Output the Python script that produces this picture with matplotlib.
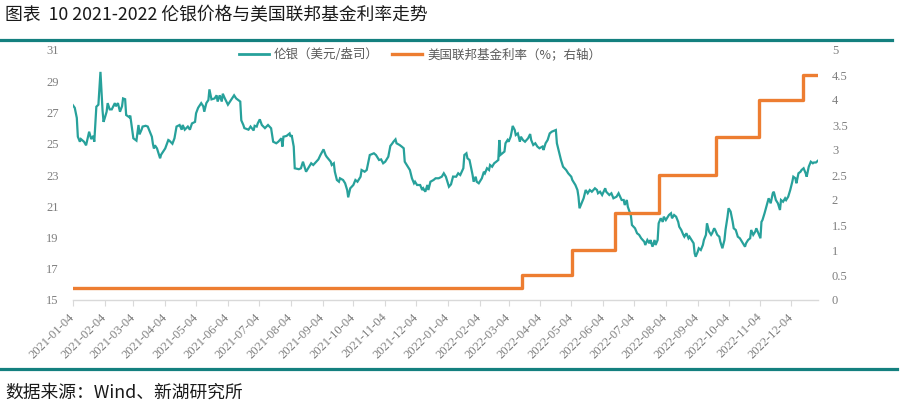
import matplotlib
matplotlib.use("Agg")
import matplotlib.pyplot as plt
from matplotlib.lines import Line2D
import pandas as pd
import numpy as np

# ---------------- data ----------------
start_date = "2021-01-04"
end_date = "2022-12-30"

# London silver price (USD/oz): day offsets from start_date and values
silver_day = [0, 2, 4, 5, 7, 8, 11, 13, 16, 18, 20, 21, 23, 25, 27, 29, 30, 31, 33, 34, 36, 38, 41, 42, 44, 46, 48, 49,
              51, 52, 55, 56, 57, 59, 62, 64, 65, 67, 68, 71, 73, 75, 77, 78, 79, 80, 82, 85, 86, 90, 93, 94, 97, 99,
              101, 104, 106, 107, 109, 112, 114, 116, 119, 120, 122, 124, 125, 127, 128, 130, 132, 133, 135, 138, 140,
              141, 143, 145, 146, 148, 151, 153, 154, 157, 159, 163, 164, 166, 167, 171, 173, 176, 177, 179, 180, 182,
              184, 187, 190, 193, 195, 198, 200, 203, 204, 205, 208, 211, 212, 213, 215, 216, 220, 222, 224, 225, 227,
              229, 232, 234, 237, 239, 241, 244, 246, 247, 251, 252, 254, 255, 257, 259, 260, 263, 265, 267, 268, 270,
              273, 275, 277, 280, 281, 284, 286, 288, 289, 293, 295, 298, 300, 302, 304, 307, 309, 311, 312, 314, 315,
              318, 320, 322, 323, 325, 328, 330, 332, 333, 335, 338, 340, 341, 343, 345, 346, 348, 351, 353, 356, 359,
              361, 363, 366, 368, 370, 373, 375, 377, 380, 381, 383, 384, 386, 387, 389, 390, 392, 393, 395, 397, 398,
              400, 401, 403, 405, 406, 408, 410, 412, 414, 415, 416, 418, 420, 421, 423, 424, 426, 427, 428, 430, 431,
              433, 435, 436, 438, 440, 443, 445, 446, 448, 450, 452, 454, 457, 458, 460, 462, 464, 466, 470, 471, 473,
              475, 477, 480, 482, 485, 486, 489, 491, 492, 493, 495, 497, 499, 501, 503, 505, 508, 510, 511, 513, 515,
              518, 519, 522, 524, 526, 529, 531, 534, 536, 537, 539, 540, 543, 544, 547, 549, 551, 553, 556, 557, 559,
              561, 562, 564, 566, 567, 569, 570, 572, 574, 575, 577, 578, 580, 582, 583, 585, 587, 589, 590, 592, 594,
              595, 597, 599, 600, 602, 604, 605, 606, 608, 609, 611, 613, 614, 616, 617, 619, 621, 622, 624, 625, 627,
              629, 630, 632, 634, 635, 637, 638, 640, 642, 643, 645, 647, 649, 650, 652, 654, 655, 657, 659, 660, 662,
              664, 665, 667, 669, 670, 671, 673, 676, 677, 679, 681, 682, 684, 686, 688, 689, 691, 693, 694, 696, 698,
              700, 701, 703, 704, 706, 708, 709, 711, 713, 714, 716, 718, 720, 721, 723, 725]
silver_val = [27.48, 27.3, 26.65, 25.45, 25.13, 25.3, 25.13, 24.9, 25.77, 25.3, 25.5, 25.13, 27.37, 27.5, 29.6, 27.16,
              26.4, 26.6, 27.05, 27.6, 27.2, 27.2, 27.6, 27.4, 27.6, 27.05, 27.4, 27.9, 27.85, 26.84, 26.7, 26.8, 26.3,
              25.35, 25.2, 26.2, 25.6, 25.9, 26.1, 26.15, 26.1, 25.77, 25.45, 25.0, 24.7, 24.9, 24.7, 24.07, 24.3, 24.7,
              25.24, 25.2, 25.0, 25.35, 26.1, 26.2, 25.9, 26.2, 25.9, 26.1, 25.9, 26.3, 26.4, 26.95, 27.3, 27.5, 27.6,
              27.4, 27.05, 27.6, 27.8, 28.48, 27.84, 27.9, 28.1, 27.7, 28.1, 27.7, 28.2, 27.9, 27.5, 27.7, 27.8, 28.1,
              27.9, 27.7, 26.5, 26.2, 26.0, 25.9, 26.1, 25.85, 26.15, 26.1, 26.3, 26.56, 26.2, 26.0, 26.2, 25.99, 25.13,
              25.03, 25.13, 25.35, 24.82, 25.45, 25.5, 25.66, 25.45, 25.55, 24.82, 23.43, 23.37, 23.43, 23.85, 23.64,
              23.21, 23.43, 23.75, 23.64, 23.85, 24.0, 24.28, 24.64, 24.28, 24.17, 23.85, 23.64, 23.75, 23.21, 22.68,
              22.57, 22.79, 22.68, 22.47, 22.04, 21.57, 22.15, 22.36, 22.68, 22.57, 22.89, 23.32, 23.21, 23.32, 23.96,
              24.28, 24.39, 24.28, 23.96, 24.0, 23.75, 23.85, 24.17, 24.86, 25.03, 25.13, 25.28, 25.03, 24.92, 24.82,
              24.71, 23.85, 23.64, 23.32, 22.79, 22.47, 22.57, 22.36, 22.36, 22.04, 22.15, 21.93, 22.36, 22.04, 22.57,
              22.68, 22.79, 22.79, 22.89, 23.11, 22.89, 22.25, 22.4, 22.9, 22.89, 23.11, 23.0, 23.43, 24.28, 24.39,
              24.07, 23.96, 23.64, 23.0, 22.57, 22.89, 22.57, 22.47, 22.68, 22.79, 23.21, 23.11, 23.43, 23.32, 23.64,
              23.53, 23.75, 23.85, 23.96, 25.24, 24.28, 24.39, 24.5, 25.03, 25.24, 25.13, 25.45, 25.77, 26.14, 25.88,
              25.56, 25.66, 25.13, 25.45, 25.24, 25.13, 25.35, 25.62, 25.24, 24.92, 25.03, 24.82, 24.71, 24.82, 24.6,
              25.03, 25.24, 25.66, 25.77, 25.88, 25.03, 24.5, 23.96, 23.53, 23.32, 23.11, 22.89, 22.68, 22.36, 22.04,
              21.61, 20.87, 21.19, 21.51, 22.04, 21.83, 22.04, 21.93, 22.15, 22.04, 21.83, 21.93, 21.72, 22.15, 21.93,
              21.72, 21.83, 21.51, 21.61, 21.83, 21.4, 21.4, 21.08, 21.4, 20.97, 20.4, 19.8, 19.59, 19.27, 19.17, 18.95,
              18.73, 18.52, 18.84, 18.63, 18.84, 18.41, 18.84, 18.52, 18.84, 19.91, 20.23, 20.0, 20.33, 20.12, 20.23,
              20.44, 20.55, 20.23, 20.44, 20.33, 20.0, 19.69, 19.48, 19.17, 19.05, 19.27, 18.95, 19.05, 18.84, 18.63,
              17.99, 17.77, 18.09, 18.31, 18.2, 18.52, 18.84, 19.17, 19.91, 19.38, 19.17, 19.27, 19.59, 19.48, 19.17,
              19.05, 18.73, 18.31, 18.84, 19.48, 20.33, 20.87, 20.66, 20.0, 19.59, 19.48, 19.05, 18.95, 18.84, 18.63,
              18.41, 18.63, 18.84, 18.95, 19.48, 19.17, 19.38, 19.59, 19.27, 18.95, 20.0, 20.12, 20.55, 21.29, 21.51,
              21.19, 21.83, 21.93, 21.4, 21.19, 20.76, 21.4, 21.29, 21.51, 21.4, 21.61, 22.04, 22.57, 22.89, 22.79,
              22.47, 23.11, 23.21, 23.32, 23.43, 23.11, 22.89, 23.53, 23.85, 23.75, 23.8, 23.8, 23.92]

# US federal funds rate (%, right axis), step changes
rate_dates = ["2021-01-04", "2022-03-17", "2022-05-05", "2022-06-16", "2022-07-28",
              "2022-09-22", "2022-11-03", "2022-12-15", "2022-12-30"]
rate_vals = [0.25, 0.5, 1.0, 1.75, 2.5, 3.25, 4.0, 4.5, 4.5]

xtick_dates = ["2021-01-04", "2021-02-04", "2021-03-04", "2021-04-04", "2021-05-04", "2021-06-04",
               "2021-07-04", "2021-08-04", "2021-09-04", "2021-10-04", "2021-11-04", "2021-12-04",
               "2022-01-04", "2022-02-04", "2022-03-04", "2022-04-04", "2022-05-04", "2022-06-04",
               "2022-07-04", "2022-08-04", "2022-09-04", "2022-10-04", "2022-11-04", "2022-12-04"]
left_ticks = [15, 17, 19, 21, 23, 25, 27, 29, 31]
right_ticks = [0, 0.5, 1, 1.5, 2, 2.5, 3, 3.5, 4, 4.5, 5]
right_labels = ["0", "0.5", "1", "1.5", "2", "2.5", "3", "3.5", "4", "4.5", "5"]

title = "图表  10 2021-2022 伦银价格与美国联邦基金利率走势"
source = "数据来源：Wind、新湖研究所"
label_silver = "伦银（美元/盎司）"
label_rate = "美国联邦基金利率（%；右轴）"

# ---------------- style ----------------
plt.rcParams['font.family'] = ['Noto Sans CJK SC', 'DejaVu Sans']
TEAL = "#27a19b"
ORANGE = "#ed7d31"
RULE = "#14807f"
GRAY = "#7f7f7f"
W, H = 900, 408

fig = plt.figure(figsize=(W / 100, H / 100), dpi=100)
x0, x1, ytop, ybot = 72.7, 818, 50, 300
ax = fig.add_axes([x0 / W, 1 - ybot / H, (x1 - x0) / W, (ybot - ytop) / H])
ax2 = ax.twinx()

sdates = pd.Timestamp(start_date) + pd.to_timedelta(silver_day, unit="D")
ax.plot(sdates, silver_val, color=TEAL, lw=1.6, solid_joinstyle="miter", zorder=3)
ax2.plot(pd.to_datetime(rate_dates), rate_vals, color=ORANGE, lw=2.4, drawstyle="steps-post", zorder=2)

ax.set_xlim(pd.Timestamp(start_date), pd.Timestamp(end_date))
ax.set_ylim(15, 31)
ax2.set_ylim(0, 5)

ax.set_yticks(left_ticks)
ax.set_yticklabels([str(t) for t in left_ticks])
ax2.set_yticks(right_ticks)
ax2.set_yticklabels(right_labels)

xt = pd.to_datetime(xtick_dates)
ax.set_xticks(xt)
ax.set_xticklabels(xtick_dates, rotation=45, ha="right", va="center", rotation_mode="anchor")

for a in (ax, ax2):
    for s in ("top", "left", "right", "bottom"):
        a.spines[s].set_visible(False)
ax.spines["bottom"].set_visible(True)
ax.spines["bottom"].set_color("#d9d9d9")
ax.spines["bottom"].set_linewidth(1.0)

serif = ["Liberation Serif", "DejaVu Serif"]
ax.tick_params(axis="x", direction="out", length=4, color="#d9d9d9", pad=7, labelsize=9, labelcolor=GRAY)
ax.tick_params(axis="y", length=0, pad=10, labelsize=9, labelcolor=GRAY)
ax2.tick_params(axis="y", length=0, pad=10, labelsize=9, labelcolor=GRAY)
for lab in ax.get_xticklabels() + ax.get_yticklabels() + ax2.get_yticklabels():
    lab.set_fontfamily(serif)

handles = [Line2D([], [], color=TEAL, lw=2.0), Line2D([], [], color=ORANGE, lw=2.4)]
fig.legend(handles, [label_silver, label_rate], loc="center", bbox_to_anchor=(420 / W, 1 - 55 / H),
           ncol=2, frameon=False, fontsize=9.0, handlelength=2.4, handletextpad=0.4,
           columnspacing=1.1, labelcolor="#595959")

fig.text(5 / W, 1 - 15 / H, title, fontsize=12.8, va="center", ha="left", color="#1a1a1a")
fig.text(5 / W, 1 - 393 / H, source, fontsize=12.8, va="center", ha="left", color="#1a1a1a")

fig.add_artist(Line2D([0, 892 / W], [1 - 39.5 / H] * 2, color=RULE, lw=2.3, transform=fig.transFigure))
fig.add_artist(Line2D([0, 897 / W], [1 - 369 / H] * 2, color=RULE, lw=2.3, transform=fig.transFigure))

fig.savefig("out.png", dpi=100)
